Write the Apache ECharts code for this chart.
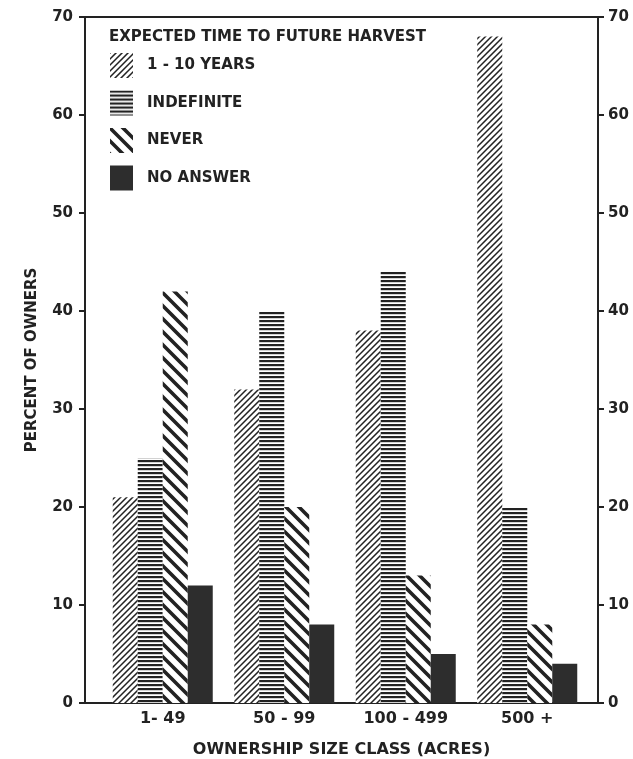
<!DOCTYPE html>
<html>
<head>
<meta charset="utf-8">
<script src="https://cdn.jsdelivr.net/npm/echarts/dist/echarts.min.js"></script>
<style>
html, body { margin: 0; background: #fff; }
#chart { width: 633px; height: 759px; }
</style>
</head>
<body>
<div id="chart"></div>
<script>
// 分类与数据
const categories = ['1- 49', '50 - 99', '100 - 499', '500 +']
const seriesNames = ['1 - 10 YEARS', 'INDEFINITE', 'NEVER', 'NO ANSWER']
const years1to10 = [21, 32, 38, 68]
const indefinite = [25, 40, 44, 20]
const never = [42, 20, 13, 8]
const noAnswer = [12, 8, 5, 4]
const yMin = 0
const yMax = 70
const yStep = 10

const ink = '#222'
const font = 'DejaVu Sans'

// 填充图案（斜线重复 n 次，线条延伸出边界避免接缝）
function stripePattern(period, n, width, dir) {
	const size = period * n
	const c = document.createElement('canvas')
	c.width = size
	c.height = size
	const ctx = c.getContext('2d')
	ctx.fillStyle = '#fff'
	ctx.fillRect(0, 0, size, size)
	ctx.strokeStyle = ink
	ctx.lineWidth = width
	ctx.beginPath()
	for (let k = -n - 1; k <= n + 1; k++) {
		const x0 = k * period
		if (dir === 'slash') {
			ctx.moveTo(x0 - 4, size + 4)
			ctx.lineTo(x0 + size + 4, -4)
		} else {
			ctx.moveTo(x0 - 4, -4)
			ctx.lineTo(x0 + size + 4, size + 4)
		}
	}
	ctx.stroke()
	return { image: c, repeat: 'repeat' }
}
function hLinePattern(period, thick) {
	const c = document.createElement('canvas')
	c.width = 8
	c.height = period
	const ctx = c.getContext('2d')
	ctx.fillStyle = '#fff'
	ctx.fillRect(0, 0, 8, period)
	ctx.fillStyle = ink
	ctx.fillRect(0, 0, 8, thick)
	return { image: c, repeat: 'repeat' }
}
const slashFill = stripePattern(6, 4, 1.5, 'slash')
const hLineFill = hLinePattern(4, 2.2)
const backFill = stripePattern(13, 2, 3.6, 'back')
const solidFill = '#2d2d2d'

const chart = echarts.init(document.getElementById('chart'))

const labelStyle = { color: ink, fontFamily: font, fontWeight: 'bold', fontSize: 15 }

function bar(name, data, color) {
	return {
		name: name,
		type: 'bar',
		xAxisIndex: 2,
		yAxisIndex: 2,
		barWidth: 25,
		barGap: '0%',
		itemStyle: { color: color },
		data: data,
	}
}

const option = {
	backgroundColor: '#fff',
	animation: false,
	title: {
		text: 'EXPECTED TIME TO FUTURE HARVEST',
		left: 109,
		top: 30,
		padding: 0,
		textStyle: { color: ink, fontFamily: font, fontWeight: 'bold', fontSize: 15 },
	},
	legend: {
		orient: 'vertical',
		left: 110,
		top: 53,
		padding: 0,
		itemWidth: 23,
		itemHeight: 25,
		itemGap: 12.5,
		icon: 'rect',
		selectedMode: false,
		textStyle: { color: ink, fontFamily: font, fontWeight: 'bold', fontSize: 15, padding: [0, 0, 0, 9] },
		data: seriesNames,
	},
	grid: [
		// 外框与坐标轴
		{ left: 85, right: 35, top: 17, bottom: 56, outerBoundsMode: 'none', containLabel: false },
		// 柱子区域
		{ left: 102, right: 45, top: 17, bottom: 56, outerBoundsMode: 'none', containLabel: false },
	],
	xAxis: [
		{
			gridIndex: 0,
			type: 'value',
			min: 0,
			max: 1,
			axisLine: { show: true, onZero: false, lineStyle: { color: ink, width: 2 } },
			axisTick: { show: false },
			axisLabel: { show: false },
			splitLine: { show: false },
			name: 'OWNERSHIP SIZE CLASS (ACRES)',
			nameLocation: 'middle',
			nameGap: 39,
			nameTextStyle: { color: ink, fontFamily: font, fontWeight: 'bold', fontSize: 16 },
		},
		{
			gridIndex: 0,
			type: 'value',
			position: 'top',
			min: 0,
			max: 1,
			axisLine: { show: true, onZero: false, lineStyle: { color: ink, width: 2 } },
			axisTick: { show: false },
			axisLabel: { show: false },
			splitLine: { show: false },
		},
		{
			gridIndex: 1,
			type: 'category',
			data: categories,
			axisLine: { show: false },
			axisTick: { show: false },
			axisLabel: Object.assign({ margin: 8 }, labelStyle, { fontSize: 16 }),
		},
	],
	yAxis: [
		{
			gridIndex: 0,
			type: 'value',
			position: 'left',
			min: yMin,
			max: yMax,
			interval: yStep,
			axisLine: { show: true, onZero: false, lineStyle: { color: ink, width: 2 } },
			axisTick: { show: true, length: 6, lineStyle: { color: ink, width: 2 } },
			axisLabel: Object.assign({ margin: 12 }, labelStyle),
			splitLine: { show: false },
			name: 'PERCENT OF OWNERS',
			nameLocation: 'middle',
			nameRotate: 90,
			nameGap: 45,
			nameTextStyle: { color: ink, fontFamily: font, fontWeight: 'bold', fontSize: 15 },
		},
		{
			gridIndex: 0,
			type: 'value',
			position: 'right',
			min: yMin,
			max: yMax,
			interval: yStep,
			axisLine: { show: true, onZero: false, lineStyle: { color: ink, width: 2 } },
			axisTick: { show: true, length: 6, lineStyle: { color: ink, width: 2 } },
			axisLabel: Object.assign({ margin: 10 }, labelStyle),
			splitLine: { show: false },
		},
		{
			gridIndex: 1,
			type: 'value',
			min: yMin,
			max: yMax,
			show: false,
		},
	],
	series: [
		bar(seriesNames[0], years1to10, slashFill),
		bar(seriesNames[1], indefinite, hLineFill),
		bar(seriesNames[2], never, backFill),
		bar(seriesNames[3], noAnswer, solidFill),
	],
}
chart.setOption(option)
</script>
</body>
</html>
